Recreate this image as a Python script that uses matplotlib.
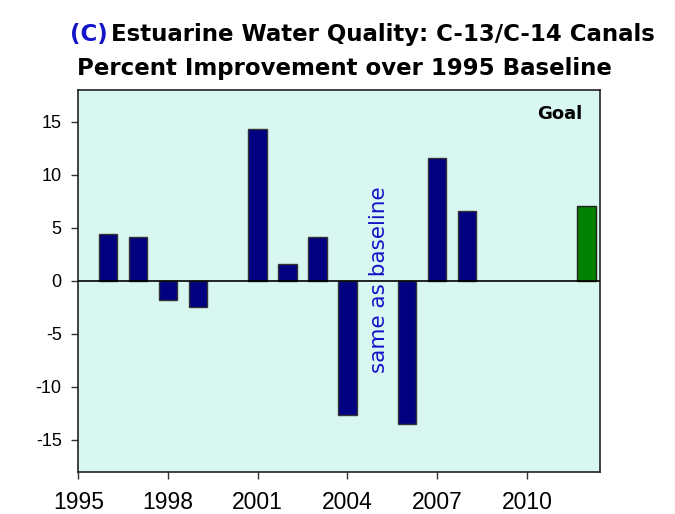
import matplotlib
matplotlib.use("Agg")
import matplotlib.pyplot as plt

# Percent improvement over the 1995 baseline, C-13/C-14 canals
years = [1996, 1997, 1998, 1999, 2001, 2002, 2003, 2004, 2006, 2007, 2008]
improvement = [4.4, 4.1, -1.8, -2.5, 14.3, 1.6, 4.1, -12.7, -13.5, 11.6, 6.6]
goal_year = [2012]
goal_value = [7.0]
year_ticks = [1995, 1998, 2001, 2004, 2007, 2010]
value_ticks = [15, 10, 5, 0, -5, -10, -15]

BG = "#D8F7F0"
NAVY = "#000080"
GREEN = "#008000"
BLUE = "#1414C8"
TITLE_FONT = "DejaVu Sans"
TICK_FONT = "Liberation Sans"

fig = plt.figure(figsize=(6.75, 5.14), dpi=100)
ax = fig.add_axes([0.116, 0.0823, 0.773, 0.7432])
ax.set_facecolor(BG)

ax.bar(years, improvement, width=0.62, color=NAVY, edgecolor="#333333",
       linewidth=1.0, zorder=3)
ax.bar(goal_year, goal_value, width=0.62, color=GREEN, edgecolor="#222222",
       linewidth=1.0, zorder=3)
ax.axhline(0, color="black", lw=1.2, zorder=4)

ax.set_xlim(1995, 2012.45)
ax.set_ylim(-18, 18)
ax.set_xticks(year_ticks)
ax.set_xticklabels([str(y) for y in year_ticks], fontsize=16.5,
                   family=TICK_FONT)
ax.set_yticks(value_ticks)
ax.set_yticklabels([str(v) for v in value_ticks], fontsize=13,
                   family=TICK_FONT)
ax.tick_params(axis="both", direction="out", length=5, width=1,
               color="#333333")
ax.tick_params(axis="x", pad=9)
ax.tick_params(axis="y", pad=7)
for s in ax.spines.values():
    s.set_color("#222222")
    s.set_linewidth(1.2)

ax.text(2005.05, 0.1, "same as baseline", rotation=90, ha="center",
        va="center", fontsize=15.5, color=BLUE, family=TITLE_FONT, zorder=5)
ax.text(0.967, 0.936, "Goal", transform=ax.transAxes, ha="right",
        va="center", fontsize=13, fontweight="bold", family=TITLE_FONT)

# two-tone title
fig.text(70 / 675, 1 - 41 / 514, "(C)", color=BLUE, fontsize=16.5,
         fontweight="bold", family=TITLE_FONT, va="baseline", ha="left")
fig.text(111 / 675, 1 - 41 / 514, "Estuarine Water Quality: C-13/C-14 Canals",
         color="black", fontsize=16.5, fontweight="bold", family=TITLE_FONT,
         va="baseline", ha="left")
fig.text(77 / 675, 1 - 75 / 514, "Percent Improvement over 1995 Baseline",
         color="black", fontsize=16.5, fontweight="bold", family=TITLE_FONT,
         va="baseline", ha="left")

fig.savefig("out.png", dpi=100, facecolor="white")
